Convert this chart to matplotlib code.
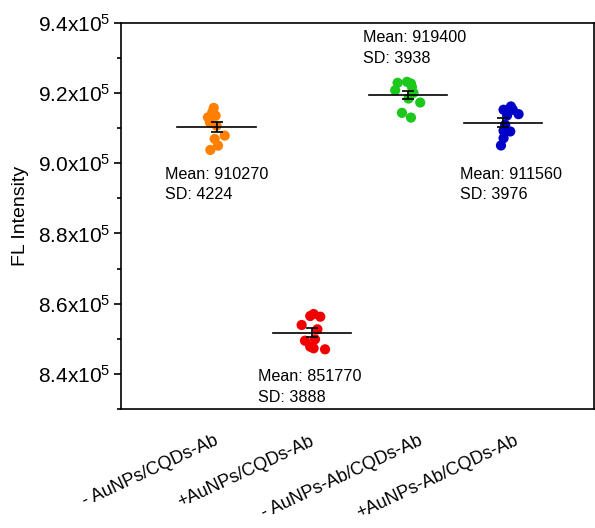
import matplotlib
matplotlib.use("Agg")
import matplotlib.pyplot as plt
import numpy as np
from matplotlib.ticker import MultipleLocator, FuncFormatter
import matplotlib.transforms as mtransforms

plt.rcParams['font.family'] = ['Liberation Sans', 'DejaVu Sans']
plt.rcParams['mathtext.fontset'] = 'custom'
plt.rcParams['mathtext.rm'] = 'Liberation Sans'
plt.rcParams['mathtext.it'] = 'Liberation Sans'
plt.rcParams['mathtext.bf'] = 'Liberation Sans'

categories = ["- AuNPs/CQDs-Ab", "+AuNPs/CQDs-Ab", "- AuNPs-Ab/CQDs-Ab", "+AuNPs-Ab/CQDs-Ab"]
colors = ["#FF8000", "#F00000", "#1BC81B", "#0000C8"]

orange_vals = [915740, 914480, 913540, 913060, 911640, 910690, 907840, 906910, 905000, 903770]
red_vals = [857050, 856280, 856480, 853920, 852690, 849840, 849440, 847730, 847280, 846990]
green_vals = [922875, 923160, 922675, 921735, 920766, 920026, 918402, 917262, 914328, 912989]
blue_vals = [915213, 916153, 915213, 913959, 913589, 910939, 909230, 909030, 907121, 905042]

orange_jit = [-0.03, -0.045, -0.01, -0.09, -0.07, 0.0, 0.085, -0.02, 0.015, -0.065]
red_jit = [0.015, 0.085, -0.02, -0.11, 0.055, 0.03, -0.075, -0.02, 0.015, 0.135]
green_jit = [-0.106, -0.008, 0.034, 0.044, -0.131, 0.06, 0.008, 0.131, -0.06, 0.034]
blue_jit = [0.003, 0.08, 0.10, 0.16, 0.04, 0.02, 0.003, 0.073, 0.003, -0.024]

means = [910270, 851770, 919400, 911560]
sds = [4224, 3888, 3938, 3976]

groups = [orange_vals, red_vals, green_vals, blue_vals]
jitters = [orange_jit, red_jit, green_jit, blue_jit]

fig = plt.figure(figsize=(5.95, 5.28), dpi=100)
ax = fig.add_axes([0.2034, 0.2254, 0.7950, 0.7316])

for i, (vals, jit, col) in enumerate(zip(groups, jitters, colors)):
    xpos = i + 1 + np.array(jit)
    ax.scatter(xpos, vals, s=54, color=col, edgecolors='none', zorder=2)
    n = len(vals)
    sem = sds[i] / np.sqrt(n)
    ax.plot([i + 1 - 0.41, i + 1 + 0.41], [means[i], means[i]], color='black', lw=1.2, zorder=3)
    ax.errorbar([i + 1], [means[i]], yerr=[sem], color='black', capsize=4, elinewidth=1.2,
                capthick=1.2, fmt='none', zorder=4)

# annotations (x offset in category units, y centre in data units)
ann_pos = [(0.46, 894000), (1.43, 836300), (2.53, 932800), (3.55, 894000)]
for i, (ax_x, ax_y) in enumerate(ann_pos):
    ax.text(ax_x, ax_y, f"Mean: {means[i]}\nSD: {sds[i]}", fontsize=11.6, ha='left', va='center',
            linespacing=1.45, zorder=5)

ax.set_xlim(0, 4.95)
ax.set_ylim(830000, 940000)
ax.yaxis.set_major_locator(MultipleLocator(20000))
ax.yaxis.set_minor_locator(MultipleLocator(10000))
ax.yaxis.set_major_formatter(FuncFormatter(lambda v, p: f"{v/1e5:.1f}x10$^{{5}}$"))
ax.tick_params(axis='y', which='major', direction='out', length=5, width=1.2, labelsize=15, pad=3)
ax.tick_params(axis='y', which='minor', direction='out', length=3, width=1.2)
ax.tick_params(axis='x', length=0, labelsize=13, pad=17)
ax.set_xticks(range(1, len(categories) + 1))
ax.set_xticklabels(categories, rotation=25, ha='center')
offset = mtransforms.ScaledTranslation(-66 / 100, 0, fig.dpi_scale_trans)
for lbl in ax.get_xticklabels():
    lbl.set_transform(lbl.get_transform() + offset)

ax.set_ylabel("FL Intensity", fontsize=14, labelpad=6)
for sp in ax.spines.values():
    sp.set_linewidth(1.2)

fig.savefig("out.png", dpi=100)
